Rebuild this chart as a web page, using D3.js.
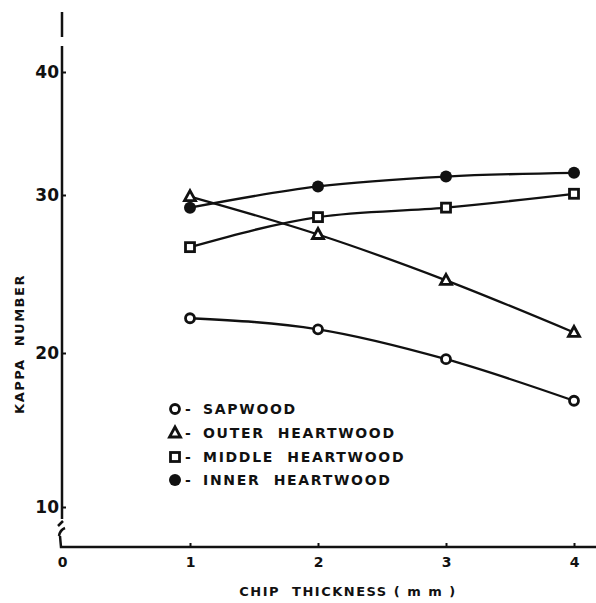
<!DOCTYPE html>
<html>
<head>
<meta charset="utf-8">
<script src="https://cdn.jsdelivr.net/npm/d3@7"></script>
<style>
  html, body { margin: 0; padding: 0; background: #fff; }
  #main { width: 596px; height: 603px; }
  text { font-family: "DejaVu Sans", sans-serif; font-weight: bold; fill: #111; }
</style>
</head>
<body>
<div id="main"></div>
<script>
// values
const thickness = [1, 2, 3, 4];
const sapwood = [22.2, 21.5, 19.6, 16.9];
const outerHeartwood = [29.9, 27.5, 24.6, 21.3];
const middleHeartwood = [26.7, 28.6, 29.2, 30.1];
const innerHeartwood = [29.2, 30.7, 31.5, 31.8];

const yTicks = [10, 20, 30, 40];
const xTicks = [0, 1, 2, 3, 4];
const legendLabels = ["SAPWOOD", "OUTER  HEARTWOOD", "MIDDLE  HEARTWOOD", "INNER  HEARTWOOD"];

const width = 596, height = 603;
const axisY = 547, axisX = 62;

const svg = d3.select("#main").append("svg")
  .attr("width", width)
  .attr("height", height);

// the scan stretches the y axis unevenly, so the scale has one stop per tick
const x = d3.scaleLinear().domain([0, 4]).range([62, 574]);
const y = d3.scaleLinear().domain([10, 20, 30, 40]).range([507, 353, 195, 72]);

// axes
const xAxis = svg.append("g")
  .attr("transform", `translate(0, ${axisY})`)
  .call(d3.axisBottom(x).tickValues(xTicks).tickSizeInner(-4).tickSizeOuter(0).tickPadding(10)
    .tickFormat(d3.format("d")));
xAxis.select(".domain").remove();
xAxis.selectAll(".tick line").attr("stroke", "#111").attr("stroke-width", 2);
xAxis.selectAll(".tick text").attr("font-size", 14).style("font-family", "DejaVu Sans").style("font-weight", "bold");
xAxis.selectAll(".tick").filter(d => d === 0).select("line").remove();

const yAxis = svg.append("g")
  .attr("transform", `translate(${axisX}, 0)`)
  .call(d3.axisLeft(y).tickValues(yTicks).tickSizeInner(-4).tickSizeOuter(0).tickPadding(3));
yAxis.select(".domain").remove();
yAxis.selectAll(".tick line").attr("stroke", "#111").attr("stroke-width", 2);
yAxis.selectAll(".tick text").attr("font-size", 17).style("font-family", "DejaVu Sans").style("font-weight", "bold");

// hand-drawn axis lines with the break near the origin
const axisPath = d3.path();
axisPath.moveTo(axisX, 12);
axisPath.lineTo(axisX, 37);
axisPath.moveTo(axisX, 46);
axisPath.lineTo(axisX, 519);
svg.append("path").attr("d", axisPath.toString())
  .attr("fill", "none").attr("stroke", "#111").attr("stroke-width", 2.5);

svg.append("path")
  .attr("d", `M${axisX - 4},${526} L${axisX + 1},${521} M${axisX - 3},${536} Q${axisX - 2},${530} ${axisX + 3},${528} M${axisX - 2},${536} L${axisX - 1},${axisY} L${width},${axisY}`)
  .attr("fill", "none").attr("stroke", "#111").attr("stroke-width", 2.5);

// axis titles
svg.append("text")
  .attr("transform", "translate(24, 344) rotate(-90)")
  .attr("text-anchor", "middle")
  .attr("font-size", 13)
  .attr("letter-spacing", 1.5)
  .style("white-space", "pre")
  .text("KAPPA  NUMBER");

svg.append("text")
  .attr("x", 348)
  .attr("y", 596)
  .attr("text-anchor", "middle")
  .attr("font-size", 13)
  .attr("letter-spacing", 1.5)
  .style("white-space", "pre")
  .text("CHIP  THICKNESS ( m m )");

// series
const series = [
  { name: legendLabels[0], values: sapwood, symbol: "circle" },
  { name: legendLabels[1], values: outerHeartwood, symbol: "triangle" },
  { name: legendLabels[2], values: middleHeartwood, symbol: "square" },
  { name: legendLabels[3], values: innerHeartwood, symbol: "dot" }
];

const line = d3.line()
  .x((d, i) => x(thickness[i]))
  .y(d => y(d))
  .curve(d3.curveMonotoneX);

svg.append("g").selectAll("path")
  .data(series)
  .enter()
  .append("path")
  .attr("d", s => line(s.values))
  .attr("fill", "none")
  .attr("stroke", "#111")
  .attr("stroke-width", 2.3);

const drawSymbol = (g, kind) => {
  if (kind === "circle") {
    g.append("circle").attr("r", 4.5).attr("fill", "#fff").attr("stroke", "#111").attr("stroke-width", 2.8);
  } else if (kind === "triangle") {
    g.append("path").attr("d", "M0,-6 L5.5,4 L-5.5,4 Z").attr("fill", "#fff").attr("stroke", "#111").attr("stroke-width", 2.8);
  } else if (kind === "square") {
    g.append("rect").attr("x", -4.5).attr("y", -4.5).attr("width", 9).attr("height", 9)
      .attr("fill", "#fff").attr("stroke", "#111").attr("stroke-width", 2.8);
  } else {
    g.append("circle").attr("r", 6).attr("fill", "#111");
  }
};

series.forEach(s => {
  svg.append("g").selectAll("g")
    .data(s.values)
    .enter()
    .append("g")
    .attr("transform", (d, i) => `translate(${x(thickness[i])}, ${y(d)})`)
    .each(function() {
      drawSymbol(d3.select(this), s.symbol);
    });
});

// legend
const legend = svg.append("g").attr("transform", "translate(175, 409)");
legend.selectAll("g")
  .data(series)
  .enter()
  .append("g")
  .attr("transform", (d, i) => `translate(0, ${[0, 24, 48, 71][i]})`)
  .each(function(s) {
    let g = d3.select(this);
    drawSymbol(g, s.symbol);
    g.append("text")
      .attr("x", 10)
      .attr("y", 5)
      .attr("font-size", 14)
      .text("-");
    g.append("text")
      .attr("x", 28)
      .attr("y", 5)
      .attr("font-size", 14)
      .attr("letter-spacing", 1.7)
      .style("white-space", "pre")
      .text(s.name);
  });
</script>
</body>
</html>
